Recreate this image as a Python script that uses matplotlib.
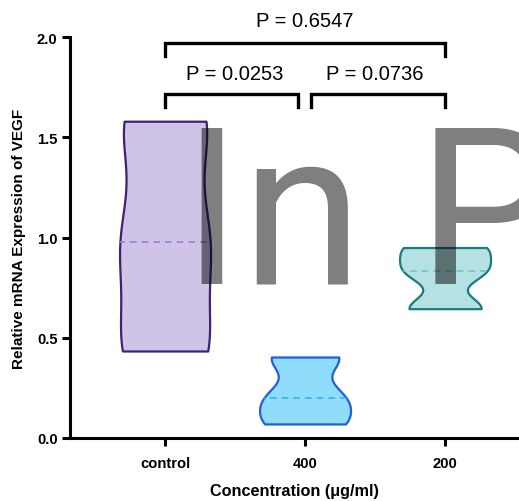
import matplotlib
matplotlib.use("Agg")
import matplotlib.pyplot as plt
import numpy as np

categories = ["control", "400", "200"]
control_vals = [0.434, 0.977, 1.58]
c400_vals = [0.07, 0.20, 0.404]
c200_vals = [0.645, 0.833, 0.95]
groups = [control_vals, c400_vals, c200_vals]
medians = [float(np.median(g)) for g in groups]
yticks = [0.0, 0.5, 1.0, 1.5, 2.0]
comparisons = [(0, 1, "P = 0.0253"), (1, 2, "P = 0.0736"), (0, 2, "P = 0.6547")]

face_colors = ["#cfc3e8", "#8fdcfb", "#b5e1e3"]
edge_colors = ["#3b2470", "#1f5fe0", "#1c7a80"]
median_colors = ["#9b7fd8", "#33b5f0", "#6cc7cc"]
bws = [0.45, 0.45, 0.4]

fig = plt.figure(figsize=(5.19, 5.02), dpi=100)
ax = fig.add_axes([70 / 519, 63 / 502, 449 / 519, 401 / 502])

pos = np.arange(len(categories))
for i, g in enumerate(groups):
    vp = ax.violinplot([g], positions=[pos[i]], widths=0.65, showextrema=False,
                       bw_method=bws[i])
    body = vp["bodies"][0]
    body.set_facecolor(face_colors[i])
    body.set_edgecolor(edge_colors[i])
    body.set_linewidth(1.6)
    body.set_alpha(1)
    body.set_zorder(2)
    ln = ax.hlines(medians[i], pos[i] - 0.5, pos[i] + 0.5, colors=median_colors[i],
                   linestyles=(0, (4, 3)), linewidth=1.2, zorder=3)
    ln.set_clip_path(body.get_paths()[0], ax.transData)

ax.set_ylim(0, 2.0)
ax.set_xlim(-0.679, -0.679 + 449 / 140)
ax.set_yticks(yticks)
ax.set_yticklabels([f"{t:.1f}" for t in yticks])
ax.set_xticks(pos)
ax.set_xticklabels(categories)
for s in ["top", "right"]:
    ax.spines[s].set_visible(False)
for s in ["left", "bottom"]:
    ax.spines[s].set_linewidth(2.2)
ax.tick_params(axis="both", length=6, width=2.2, labelsize=10.6)
for lab in ax.get_xticklabels() + ax.get_yticklabels():
    lab.set_fontfamily("Liberation Sans")
    lab.set_fontweight("bold")
ax.tick_params(axis="x", pad=7)
ax.tick_params(axis="y", pad=3)
ax.set_ylabel("Relative mRNA Expression of VEGF", fontfamily="Liberation Sans",
              fontweight="bold", fontsize=11, labelpad=8)
ax.set_xlabel("Concentration (\u03bcg/ml)", fontfamily="Liberation Sans",
              fontweight="bold", fontsize=11.7, labelpad=9)

# significance brackets
levels = [(1.716, 1.65, 1.82), (1.716, 1.65, 1.82), (1.97, 1.905, 2.08)]
for (a, b, txt), (yb, yleg, yt) in zip(comparisons, levels):
    xa, xb = pos[a], pos[b]
    if b - a == 1:
        if a == 0:
            xb = xb - 0.05
        else:
            xa = xa + 0.04
    ax.plot([xa, xa, xb, xb], [yleg, yb, yb, yleg], color="black", lw=2.4,
            clip_on=False, solid_joinstyle="miter")
    ax.text((pos[a] + pos[b]) / 2, yt, txt, ha="center", va="center",
            fontsize=14.5, fontfamily="Liberation Sans", clip_on=False)

# watermark
fig.text(181.5 / 519, 1 - 283 / 502, "In P", fontsize=158, color="black",
         alpha=0.5, ha="left", va="baseline", fontfamily="Roboto", zorder=10)

fig.savefig("out.png", dpi=100)
